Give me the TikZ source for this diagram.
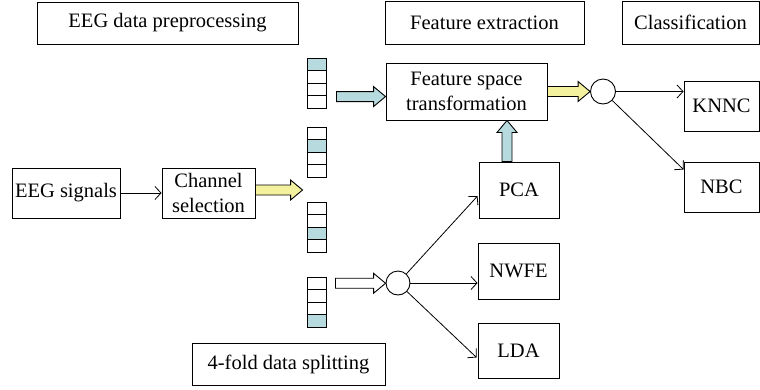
\documentclass[tikz,border=0pt]{standalone}
\usepackage{fontspec}
\setmainfont{Liberation Serif}
\usetikzlibrary{calc}
\usetikzlibrary{positioning}
\usetikzlibrary{arrows.meta}

\definecolor{cellblue}{RGB}{183,218,222}
\definecolor{paleyellow}{RGB}{243,240,158}

\newcommand{\fatarrow}[3][white]{%
  \draw[fill=#1,line width=0.9pt] let \p1=(#2), \p2=(#3),
    \n1={veclen(\x2-\x1,\y2-\y1)}, \n2={atan2(\y2-\y1,\x2-\x1)} in
    [shift={(\p1)},rotate=\n2]
    (0pt,5pt) -- ({\n1*1pt-12pt},5pt) -- ({\n1*1pt-12pt},10pt) -- ({\n1*1pt},0pt)
    -- ({\n1*1pt-12pt},-10pt) -- ({\n1*1pt-12pt},-5pt) -- (0pt,-5pt) -- cycle;}

\begin{document}
\begin{tikzpicture}[x=1pt,y=-1pt,>={Straight Barb[length=6pt,width=13pt]},
    every node/.style={font=\fontsize{20.5}{24.5}\selectfont},
    box/.style={draw,line width=0.9pt,inner sep=0pt,align=center},
    cell/.style={draw,line width=0.9pt,minimum width=19pt,minimum height=12.5pt,inner sep=0pt},
    hub/.style={draw,circle,line width=0.9pt,minimum size=25pt,inner sep=0pt}]
        \useasboundingbox (0,0) rectangle (760,389);

        \node[box,minimum width=261pt,minimum height=42pt] (prep) at (167.5,23) {EEG data preprocessing};
        \node[box,minimum width=199pt,minimum height=43pt] (fext) at (484.5,22.5) {Feature extraction};
        \node[box,minimum width=137pt,minimum height=43pt] (clas) at (690.5,22.5) {Classification};
        \node[box,minimum width=193pt,minimum height=42pt] (split) at (288.5,364) {4-fold data splitting};

        \node[box,minimum width=108pt,minimum height=50pt] (eeg) at (66,193) {EEG signals};
        \node[box,minimum width=93pt,minimum height=50pt] (chsel) at (208.5,193) {Channel\\selection};
        \node[box,minimum width=161pt,minimum height=57pt] (fst) at (466.5,91.5) {Feature space\\transformation};

        \node[box,minimum width=80pt,minimum height=56pt] (pca) at (519,190) {PCA};
        \node[box,minimum width=81pt,minimum height=56pt] (nwfe) at (518.5,271) {NWFE};
        \node[box,minimum width=81pt,minimum height=55pt] (lda) at (518.5,350.5) {LDA};
        \node[box,minimum width=75pt,minimum height=50pt] (knnc) at (721.5,106) {KNNC};
        \node[box,minimum width=75pt,minimum height=50pt] (nbc) at (721.5,187) {NBC};

        \node[hub] (c1) at (603,91.5) {};
        \node[hub,minimum size=24pt] (c2) at (398,283) {};

        \foreach \i/\first/\hl in {1/58/1, 2/127/2, 3/202/3, 4/277/4}
        \foreach \j in {1,...,4}{
            \pgfmathtruncatemacro\tint{\j==\hl ? 100 : 0}
            \node[cell,fill=cellblue!\tint!white] (s\i-\j) at (316.5,{\first+12.5*\j-6.25}) {};
        }

        \draw[->,line width=0.8pt] (eeg) -- (chsel);
        \fatarrow[paleyellow]{$(chsel.east)+(0,-3)$}{$(chsel.east -| s3-1.west)+(-4,-3)$}

        \coordinate (t1) at ($(s1-4.north east)+(10,1.5)$);
        \fatarrow[cellblue]{t1}{t1 -| fst.west}
        \coordinate (t2) at ($(pca.north)+(-12,0)$);
        \fatarrow[cellblue]{t2}{t2 |- fst.south}
        \fatarrow[paleyellow]{fst.east}{fst.east -| c1.west}
        \coordinate (t3) at ($(s4-1.east)+(9,0)$);
        \fatarrow{t3}{t3 -| c2.west}

        \draw[->,line width=0.8pt] (c1.east) -- (c1.east -| knnc.west);
        \draw[->,line width=0.8pt] (c1) -- ($(nbc.north west)+(0,8)$);
        \draw[->,line width=0.8pt] (c2) -- ($(pca.west)+(-1,6)$);
        \draw[->,line width=0.8pt] (c2.east) -- (c2.east -| nwfe.west);
        \draw[->,line width=0.8pt] (c2) -- ($(lda.west)+(-1,7)$);
      \end{tikzpicture}
\end{document}
